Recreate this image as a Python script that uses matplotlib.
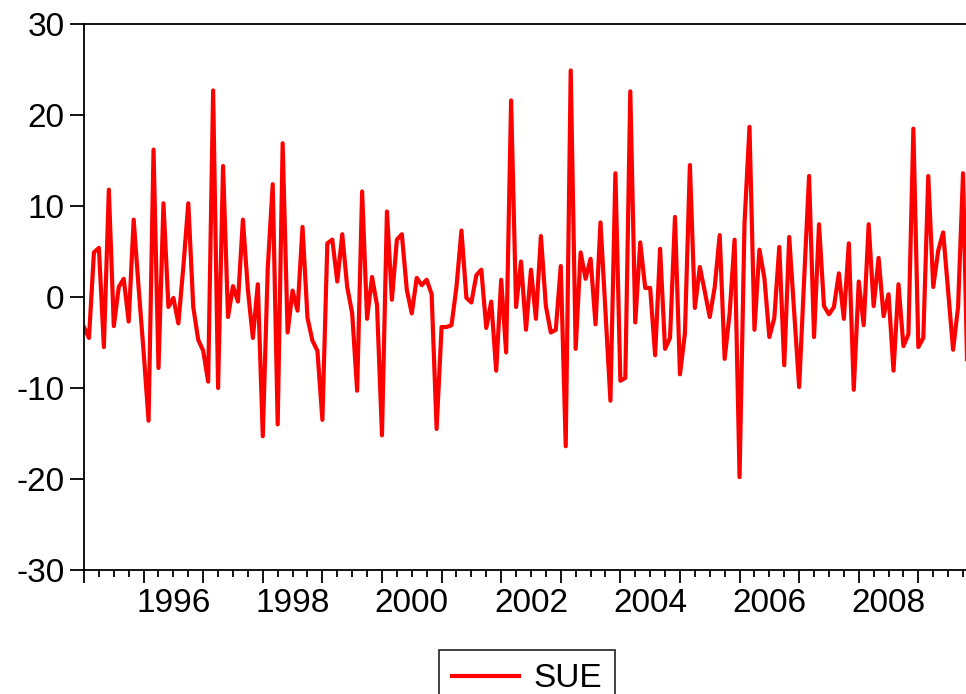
import matplotlib
matplotlib.use("Agg")
import matplotlib.pyplot as plt
import numpy as np
from matplotlib.ticker import FixedLocator, FixedFormatter

plt.rcParams['font.family'] = ['Liberation Sans', 'DejaVu Sans']

# monthly SUE series, starting January 1995
start_year = 1995
sue = [
    -3.3, -4.5, 4.9, 5.4, -5.5, 11.8, -3.2, 1.1, 2.0, -2.7, 8.5, 1.0,
    -6.0, -13.6, 16.2, -7.8, 10.3, -1.1, -0.1, -2.9, 3.3, 10.3, -1.1, -4.7,
    -5.9, -9.3, 22.7, -10.0, 14.4, -2.2, 1.2, -0.5, 8.5, 0.8, -4.5, 1.4,
    -15.3, 3.2, 12.4, -14.0, 16.9, -3.9, 0.7, -1.5, 7.7, -2.3, -4.8, -5.9,
    -13.5, 5.9, 6.3, 1.7, 6.9, 1.1, -1.8, -10.3, 11.6, -2.4, 2.2, -0.9,
    -15.2, 9.4, -0.3, 6.3, 6.9, 0.8, -1.8, 2.1, 1.3, 1.9, 0.3, -14.5,
    -3.3, -3.3, -3.1, 1.1, 7.3, -0.1, -0.6, 2.4, 3.0, -3.4, -0.5, -8.1,
    1.9, -6.1, 21.6, -1.1, 3.9, -3.6, 3.0, -2.4, 6.7, -1.0, -3.9, -3.6,
    3.4, -16.4, 24.9, -5.7, 4.9, 2.0, 4.2, -3.0, 8.2, -1.6, -11.4, 13.6,
    -9.2, -8.9, 22.6, -2.8, 6.0, 1.0, 1.0, -6.4, 5.3, -5.7, -4.5, 8.8,
    -8.5, -4.0, 14.5, -1.2, 3.3, 0.6, -2.2, 1.1, 6.8, -6.8, -1.8, 6.3,
    -19.8, 8.1, 18.7, -3.6, 5.2, 2.1, -4.4, -2.3, 5.5, -7.5, 6.6, -1.6,
    -9.9, 1.9, 13.3, -4.4, 8.0, -1.0, -1.9, -1.1, 2.6, -2.4, 5.9, -10.2,
    1.7, -3.1, 8.0, -1.0, 4.3, -2.1, 0.3, -8.1, 1.4, -5.4, -4.1, 18.5,
    -5.5, -4.5, 13.3, 1.1, 5.1, 7.1, 0.7, -5.8, -1.1, 13.6, -12.0,
]
labelled_years = [1996, 1998, 2000, 2002, 2004, 2006, 2008]
y_ticks = [-30, -20, -10, 0, 10, 20, 30]

t = start_year + np.arange(len(sue)) / 12.0

W, H = 966, 694
fig = plt.figure(figsize=(W / 100, H / 100), dpi=100)
ax = fig.add_axes([84 / W, 124 / H, (968 - 84) / W, 546 / H])

ax.plot(t, sue, color='#ff0000', lw=3.0, label='SUE')

ax.set_ylim(-30, 30)
ax.set_xlim(t[0], t[-1])
ax.set_yticks(y_ticks)
ax.set_yticklabels([str(v) for v in y_ticks])

# year boundaries as long ticks, quarters as short ones, labels mid-year
years = np.arange(start_year, 2010)
ax.xaxis.set_major_locator(FixedLocator(years))
ax.xaxis.set_major_formatter(FixedFormatter([''] * len(years)))
quarters = [y + q / 4 for y in years for q in (1, 2, 3)]
qlabels = [str(y) if (q == 2 and y in labelled_years) else '' for y in years for q in (1, 2, 3)]
ax.xaxis.set_minor_locator(FixedLocator(quarters))
ax.xaxis.set_minor_formatter(FixedFormatter(qlabels))

ax.tick_params(axis='x', which='major', direction='out', length=9, width=1.3)
ax.tick_params(axis='x', which='minor', direction='out', length=5, width=1.3,
               labelsize=24, pad=8)
ax.tick_params(axis='y', direction='out', length=10, width=1.3, labelsize=24, pad=4)
ax.tick_params(top=False, right=False)

for side in ['left', 'top', 'bottom']:
    ax.spines[side].set_linewidth(1.3)
    ax.spines[side].set_color('black')
ax.spines['right'].set_visible(False)

leg = fig.legend(loc='upper center', bbox_to_anchor=(527 / W, (H - 650) / H),
                 fontsize=24, frameon=True, fancybox=False, edgecolor='black',
                 handlelength=2.0, handletextpad=0.45, borderpad=0.4,
                 borderaxespad=0)
leg.get_frame().set_linewidth(1.3)

fig.savefig('out.png', dpi=100)
